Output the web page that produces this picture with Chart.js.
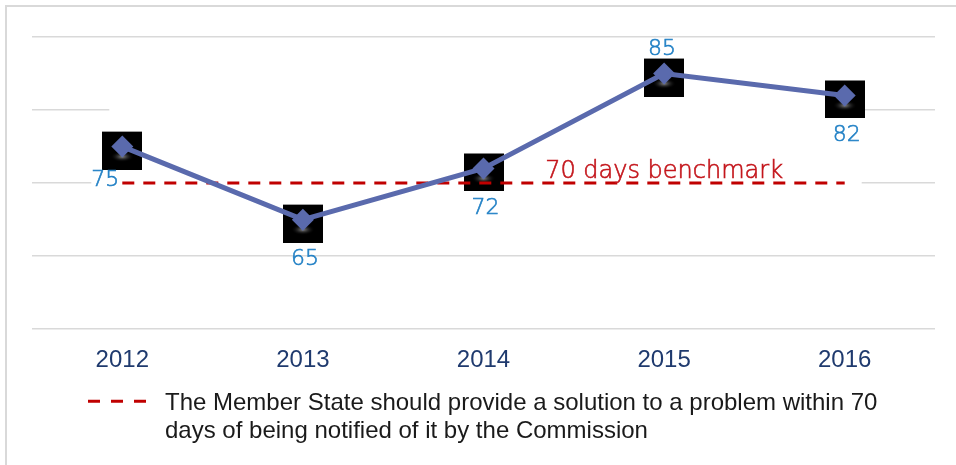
<!DOCTYPE html>
<html>
<head>
<meta charset="utf-8">
<script src="https://cdn.jsdelivr.net/npm/chart.js@4.4.0/dist/chart.umd.min.js"></script>
<style>
  html, body { margin: 0; padding: 0; background: #fff; overflow: hidden; }
  #wrap { position: relative; width: 956px; height: 465px; }
  #frame { position: absolute; left: 5px; top: 5px; width: 1000px; height: 600px;
           border-left: 2px solid #d9d9d9; border-top: 2px solid #d9d9d9; }
  #myChart { position: absolute; left: 0; top: 0; }
</style>
</head>
<body>
<div id="wrap">
  <div id="frame"></div>
  <canvas id="myChart" width="956" height="465"></canvas>
</div>
<script>
var years = ['2012', '2013', '2014', '2015', '2016'];
var daysValues = [75, 65, 72, 85, 82];
var benchmarkValues = [70, 70, 70, 70, 70];
var labelPlaces = ['left', 'below', 'below', 'above', 'below'];
var benchmarkText = '70 days benchmark';
var legendLines = [
  'The Member State should provide a solution to a problem within 70',
  'days of being notified of it by the Commission'
];
var yTicks = { min: 50, max: 90, step: 10 };

var lineColor = '#5a6aad';
var redDash = '#c00000';
var blueText = '#2482c6';

// marker: black square sitting a bit below the diamond, with a soft glow
function makeSquare() {
  var c = document.createElement('canvas');
  c.width = 40; c.height = 46;
  var g = c.getContext('2d');
  g.fillStyle = '#000';
  g.fillRect(0, 8, 40, 38);
  var grad = g.createRadialGradient(20, 33, 1, 20, 33, 12);
  grad.addColorStop(0, 'rgba(170,170,170,0.7)');
  grad.addColorStop(1, 'rgba(0,0,0,0)');
  g.save();
  g.translate(20, 33);
  g.scale(1, 0.45);
  g.translate(-20, -33);
  g.fillStyle = grad;
  g.fillRect(4, 15, 32, 36);
  g.restore();
  return c;
}

// hides part of the grid behind the series, like the original picture
var gridMask = {
  id: 'gridMask',
  beforeDatasetsDraw: function(chart) {
    var x = chart.scales.x, y = chart.scales.y, ctx = chart.ctx;
    var left = x.getPixelForValue(0) - 13;
    var right = x.getPixelForValue(years.length - 1) + 17;
    var top = y.getPixelForValue(81);
    var bottom = y.getPixelForValue(69);
    ctx.save();
    ctx.fillStyle = '#fff';
    ctx.fillRect(left, top, right - left, bottom - top);
    ctx.restore();
  }
};

// thin text, slightly thickened with a stroke
function lightText(ctx, txt, x, y, color) {
  ctx.fillStyle = color;
  ctx.strokeStyle = color;
  ctx.lineWidth = 0.6;
  ctx.fillText(txt, x, y);
  ctx.strokeText(txt, x, y);
}

var valueLabels = {
  id: 'valueLabels',
  afterDatasetsDraw: function(chart) {
    var ctx = chart.ctx;
    var meta = chart.getDatasetMeta(0);
    ctx.save();
    ctx.font = '200 22px "DejaVu Sans"';
    ctx.textBaseline = 'middle';
    meta.data.forEach(function(pt, i) {
      var txt = String(daysValues[i]);
      var place = labelPlaces[i];
      if (place === 'left') {
        ctx.textAlign = 'right';
        // white box under the label hides the gridline
        var w = ctx.measureText(txt).width;
        ctx.fillStyle = '#fff';
        ctx.fillRect(pt.x - 3 - w, pt.y + 24, w, 18);
        lightText(ctx, txt, pt.x - 3, pt.y + 34, blueText);
      } else if (place === 'above') {
        ctx.textAlign = 'center';
        lightText(ctx, txt, pt.x - 2, pt.y - 24.5, blueText);
      } else {
        ctx.textAlign = 'center';
        lightText(ctx, txt, pt.x + 2, pt.y + 40, blueText);
      }
    });
    // benchmark caption
    var bm = chart.getDatasetMeta(2).data[3];
    ctx.font = '200 24px "DejaVu Sans"';
    ctx.textAlign = 'center';
    ctx.textBaseline = 'alphabetic';
    lightText(ctx, benchmarkText, bm.x, bm.y - 5, '#c4161c');
    ctx.restore();
  }
};

var legendDraw = {
  id: 'legendDraw',
  afterDraw: function(chart) {
    var ctx = chart.ctx;
    var top = chart.chartArea.bottom;
    ctx.save();
    ctx.strokeStyle = redDash;
    ctx.lineWidth = 3;
    ctx.setLineDash([12, 11]);
    ctx.beginPath();
    ctx.moveTo(88, top + 72);
    ctx.lineTo(148, top + 72);
    ctx.stroke();
    ctx.setLineDash([]);
    ctx.fillStyle = '#1a1a1a';
    ctx.font = '24px "Liberation Sans", Arial, sans-serif';
    ctx.textAlign = 'left';
    ctx.textBaseline = 'alphabetic';
    legendLines.forEach(function(line, i) {
      ctx.fillText(line, 165, top + 81 + i * 28);
    });
    ctx.restore();
  }
};

var squareImg = makeSquare();

new Chart(document.getElementById('myChart'), {
  type: 'line',
  data: {
    labels: years,
    datasets: [
      {
        label: 'Days',
        data: daysValues,
        borderColor: lineColor,
        borderWidth: 5,
        pointStyle: 'rectRot',
        pointRadius: 11,
        pointHoverRadius: 11,
        pointBackgroundColor: lineColor,
        pointBorderWidth: 0,
        order: 1
      },
      {
        label: 'markers',
        data: daysValues,
        showLine: false,
        pointStyle: squareImg,
        pointRadius: 20,
        order: 3
      },
      {
        label: legendLines.join(' '),
        data: benchmarkValues,
        borderColor: redDash,
        borderWidth: 3,
        borderDash: [12, 9],
        pointRadius: 0,
        order: 2
      }
    ]
  },
  plugins: [gridMask, valueLabels, legendDraw],
  options: {
    responsive: false,
    animation: false,
    layout: { padding: { left: 32, right: 21, top: 37, bottom: 81 } },
    plugins: {
      legend: { display: false },
      tooltip: { enabled: false }
    },
    scales: {
      x: {
        offset: true,
        grid: { display: false },
        border: { display: false },
        ticks: {
          color: '#1f3a6e',
          font: { family: '"Liberation Sans", Arial, sans-serif', size: 24 },
          padding: 9
        }
      },
      y: {
        min: yTicks.min,
        max: yTicks.max,
        border: { display: false },
        grid: { color: '#d9d9d9', lineWidth: 1.5, drawTicks: false },
        ticks: { display: false, stepSize: yTicks.step }
      }
    }
  }
});
</script>
</body>
</html>
